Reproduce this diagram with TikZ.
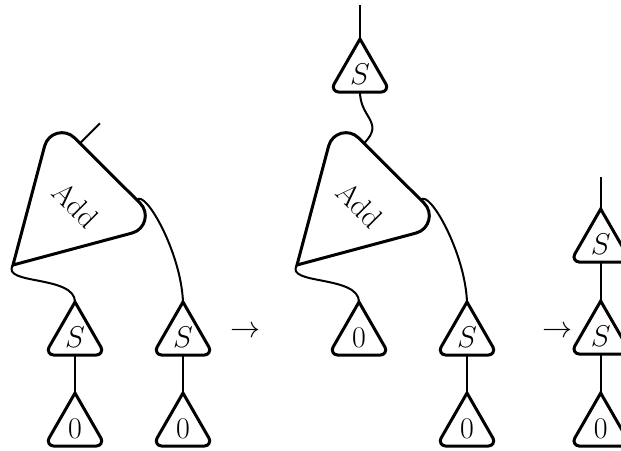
\documentclass[tikz,border=0pt]{standalone}
\usepackage{graphicx}
\usetikzlibrary{calc}
\newcommand{\lb}[1]{\scalebox{1.206}{#1}}
\tikzset{
  outl/.style={line width=3pt, line join=miter},
  wire/.style={line width=2pt},
  lbl/.style={inner sep=0pt, font=\Huge},
  pics/tri/.style={code={
    \draw[outl] (0,0) -- (-26,45.2) .. controls (-28,48.67) and (-25.5,53) .. (-21.5,53)
      -- (21.5,53) .. controls (25.5,53) and (28,48.67) .. (26,45.2) -- cycle;
    \coordinate (-top) at (0,0);
    \coordinate (-bot) at (0,53);
    \node[lbl] (-lbl) at (0,35.5) {\lb{#1}};
  }},
  pics/addtri/.style={code={
    \draw[outl] (0,0) -- (31.64,-119.04) .. controls (35.18,-132.35) and (51.80,-136.83) .. (61.56,-127.11)
      -- (127.04,-61.89) .. controls (136.80,-52.17) and (132.36,-35.53) .. (119.06,-31.96) -- cycle;
    \coordinate (-in1) at (0,0);
    \coordinate (-in2) at (124,-65);
    \coordinate (-out) at (67,-121.7);
    \node[lbl, rotate=-45] (-lbl) at (63,-60) {\lb{Add}};
  }},
}
\begin{document}
\begin{tikzpicture}[x=1pt, y=-1pt]
\clip (0,0) rectangle (621,450);
% first diagram
\pic (a1) at (13,265) {addtri};
\pic (s1) at (75,302) {tri={$S$}};
\pic (z1) at (75,393) {tri={$0$}};
\pic (s2) at (183,302) {tri={$S$}};
\pic (z2) at (183,393) {tri={$0$}};
\coordinate (o1) at (100,123.3);
\draw[wire] (a1-out) -- (o1);
\draw[wire] (a1-in1) .. controls (0,285) and (75,275) .. (s1-top);
\draw[wire] (a1-in2) .. controls (145,189) and (181,252) .. (s2-top);
\draw[wire] (s1-bot) -- (z1-top);
\draw[wire] (s2-bot) -- (z2-top);
\node[lbl] (ar1) at (246,332) {\lb{$\to$}};
% second diagram
\pic (a2) at (297,265) {addtri};
\pic (s3) at (360,39) {tri={$S$}};
\pic (z3) at (359,302) {tri={$0$}};
\pic (s4) at (467,302) {tri={$S$}};
\pic (z4) at (467,393) {tri={$0$}};
\coordinate (t3) at (360,5);
\draw[wire] (t3) -- (s3-top);
\draw[wire] (a2-out) .. controls (385,122) and (360,118) .. (s3-bot);
\draw[wire] (a2-in1) .. controls (284,285) and (359,275) .. (z3-top);
\draw[wire] (a2-in2) .. controls (429,189) and (465,252) .. (s4-top);
\draw[wire] (s4-bot) -- (z4-top);
\node[lbl] (ar2) at (557,332) {\lb{$\to$}};
% third diagram
\pic (s5) at (600.7,209) {tri={$S$}};
\pic (s6) at (600.7,301) {tri={$S$}};
\pic (z5) at (600.7,393) {tri={$0$}};
\coordinate (t5) at (600.7,177);
\draw[wire] (t5) -- (s5-top);
\draw[wire] (s5-bot) -- (s6-top);
\draw[wire] (s6-bot) -- (z5-top);
\end{tikzpicture}
\end{document}
